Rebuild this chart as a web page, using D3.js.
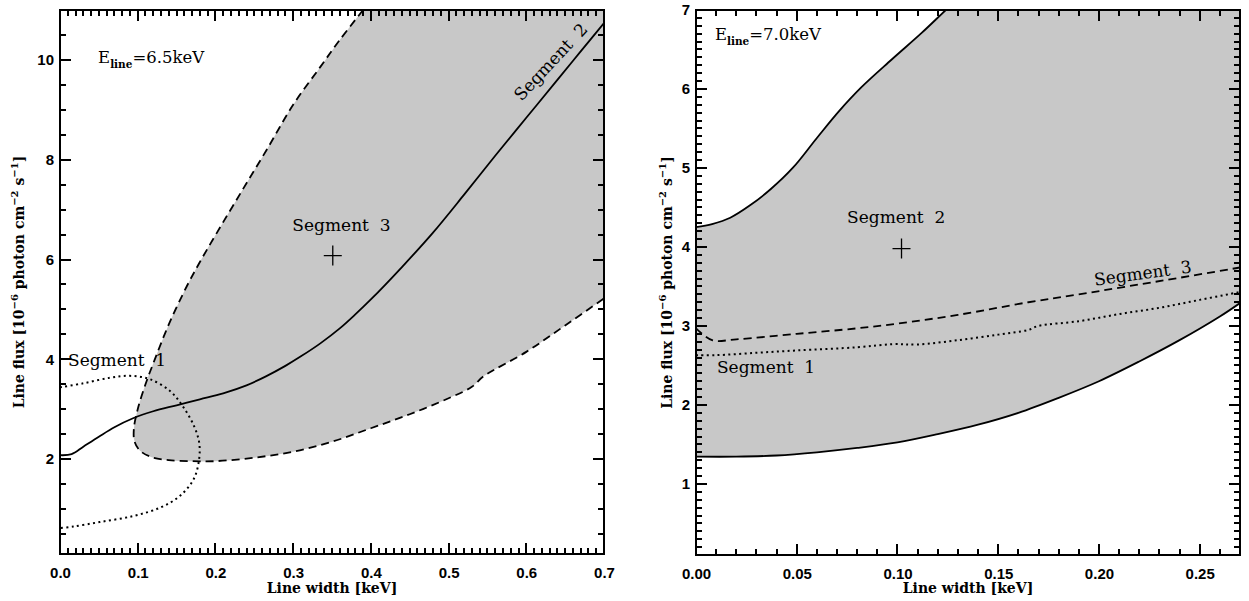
<!DOCTYPE html>
<html>
<head>
<meta charset="utf-8">
<script src="https://cdn.jsdelivr.net/npm/d3@7"></script>
<style>
    body { margin: 0; background: #fff; }
</style>
</head>
<body>
<svg id="chart" width="1249" height="601"></svg>
<script>
(function () {
    'use strict';

    // ---- values ----

    // left panel, E_line = 6.5 keV
    var leftXTicks = [0, 0.1, 0.2, 0.3, 0.4, 0.5, 0.6, 0.7];
    var leftYTicks = [2, 4, 6, 8, 10];
    // segment 3 contour (dashed), shaded to its right
    var leftSeg3 = [
        [0.39, 11.0], [0.36, 10.4], [0.335, 9.86], [0.30, 9.1], [0.266, 8.2],
        [0.235, 7.4], [0.202, 6.54], [0.18, 5.95], [0.163, 5.46], [0.14, 4.7],
        [0.122, 4.0], [0.11, 3.5], [0.1, 3.0], [0.095, 2.6], [0.096, 2.35],
        [0.103, 2.17], [0.118, 2.04], [0.14, 1.98], [0.17, 1.96], [0.2, 1.96],
        [0.25, 2.03], [0.3, 2.15], [0.35, 2.35], [0.4, 2.62], [0.45, 2.9],
        [0.5, 3.22], [0.53, 3.45], [0.545, 3.66], [0.6, 4.15], [0.65, 4.68],
        [0.7, 5.22]
    ];
    // segment 2 contour (solid)
    var leftSeg2 = [
        [0, 2.08], [0.015, 2.1], [0.03, 2.25], [0.05, 2.45], [0.07, 2.64],
        [0.094, 2.82], [0.12, 2.96], [0.15, 3.08], [0.18, 3.2], [0.21, 3.32],
        [0.24, 3.48], [0.265, 3.66], [0.29, 3.87], [0.31, 4.06], [0.335, 4.32],
        [0.36, 4.62], [0.38, 4.9], [0.4, 5.2], [0.44, 5.85], [0.48, 6.54],
        [0.52, 7.3], [0.56, 8.08], [0.6, 8.84], [0.64, 9.6], [0.67, 10.17],
        [0.7, 10.74]
    ];
    // segment 1 contour (dotted)
    var leftSeg1 = [
        [0, 3.44], [0.03, 3.52], [0.064, 3.63], [0.09, 3.67], [0.116, 3.6],
        [0.142, 3.36], [0.158, 3.06], [0.172, 2.68], [0.179, 2.34], [0.179, 2.0],
        [0.172, 1.6], [0.154, 1.26], [0.129, 1.03], [0.094, 0.86], [0.051, 0.74],
        [0.017, 0.65], [0, 0.62]
    ];
    var leftBest = [0.351, 6.08];

    // right panel, E_line = 7.0 keV
    var rightXTicks = [0, 0.05, 0.1, 0.15, 0.2, 0.25];
    var rightYTicks = [1, 2, 3, 4, 5, 6, 7];
    // segment 2 region (solid bounds, shaded between)
    var rightSeg2Upper = [
        [0, 4.25], [0.008, 4.29], [0.017, 4.37], [0.027, 4.53], [0.037, 4.73],
        [0.048, 5.0], [0.06, 5.38], [0.071, 5.72], [0.082, 6.02], [0.097, 6.37],
        [0.112, 6.71], [0.124, 7.0], [0.13, 7.14]
    ];
    var rightSeg2Lower = [
        [0, 1.345], [0.02, 1.345], [0.04, 1.36], [0.06, 1.4], [0.08, 1.455],
        [0.1, 1.525], [0.12, 1.63], [0.14, 1.75], [0.16, 1.9], [0.18, 2.09],
        [0.2, 2.3], [0.22, 2.55], [0.24, 2.82], [0.26, 3.12], [0.27, 3.29]
    ];
    // segment 3 (dashed)
    var rightSeg3 = [
        [0, 2.97], [0.008, 2.82], [0.02, 2.83], [0.05, 2.9], [0.08, 2.97],
        [0.1, 3.03], [0.13, 3.14], [0.165, 3.3], [0.19, 3.4], [0.214, 3.5],
        [0.24, 3.61], [0.27, 3.74]
    ];
    // segment 1 (dotted)
    var rightSeg1 = [
        [0, 2.63], [0.01, 2.63], [0.03, 2.66], [0.05, 2.69], [0.08, 2.73],
        [0.098, 2.77], [0.11, 2.765], [0.13, 2.82], [0.15, 2.89], [0.165, 2.95],
        [0.17, 3.0], [0.19, 3.06], [0.21, 3.15], [0.23, 3.23], [0.25, 3.33],
        [0.27, 3.43]
    ];
    var rightBest = [0.102, 3.98];

    var svg = d3.select("#chart");
    svg.append("rect").attr("width", 1249).attr("height", 601).attr("fill", "#fff");

    var SERIF = "'DejaVu Serif', serif";
    var SANS = "'Liberation Sans', Arial, sans-serif";
    var SHADE = "#c8c8c8";

    function minorRange(lo, hi, step, majors) {
        var out = [];
        var n = Math.round((hi - lo) / step);
        for (var i = 0; i <= n; i++) {
            var v = +(lo + i * step).toFixed(6);
            var isMajor = majors.some(function (m) { return Math.abs(m - v) < step / 10; });
            if (!isMajor) out.push(v);
        }
        return out;
    }

    // inward tick marks on one side of the frame
    function tickMarks(sel, scale, values, side, pos, len) {
        var horiz = (side === "bottom" || side === "top");
        var dir = (side === "bottom" || side === "right") ? -1 : 1;
        sel.selectAll(null)
            .data(values)
            .enter()
            .append("line")
            .attr("x1", function (d) { return horiz ? scale(d) : pos; })
            .attr("x2", function (d) { return horiz ? scale(d) : pos + dir * len; })
            .attr("y1", function (d) { return horiz ? pos : scale(d); })
            .attr("y2", function (d) { return horiz ? pos + dir * len : scale(d); })
            .attr("stroke", "#000")
            .attr("stroke-width", 2);
    }

    function drawPanel(o) {
        var x = d3.scaleLinear().domain(o.xDomain).range([o.left, o.right]);
        var y = d3.scaleLinear().domain(o.yDomain).range([o.bottom, o.top]);
        var g = svg.append("g");

        var clipId = "clip-" + o.name;
        svg.append("clipPath").attr("id", clipId)
            .append("rect")
            .attr("x", o.left).attr("y", o.top)
            .attr("width", o.right - o.left).attr("height", o.bottom - o.top);

        var plot = g.append("g").attr("clip-path", "url(#" + clipId + ")");

        var line = d3.line()
            .x(function (d) { return x(d[0]); })
            .y(function (d) { return y(d[1]); })
            .curve(d3.curveCatmullRom.alpha(0.5));

        // shaded region
        plot.append("path")
            .attr("d", o.shade(line, x, y))
            .attr("fill", SHADE)
            .attr("stroke", "none");

        // contour lines
        o.lines.forEach(function (l) {
            plot.append("path")
                .attr("d", line(l.data))
                .attr("fill", "none")
                .attr("stroke", "#000")
                .attr("stroke-width", l.width || 1.8)
                .attr("stroke-dasharray", l.dash || null);
        });

        // best-fit cross
        g.append("path")
            .attr("transform", "translate(" + x(o.best[0]) + "," + y(o.best[1]) + ")")
            .attr("d", "M-9,0H9M0,-10V10")
            .attr("stroke", "#000")
            .attr("stroke-width", 1.3);

        // tick labels through d3 axes, marks drawn inward on all four sides
        var xMinor = minorRange(o.xDomain[0], o.xDomain[1], o.xMinorStep, o.xTicks);
        var yMinor = minorRange(o.yMinorStart, o.yDomain[1], o.yMinorStep, o.yTicks);

        function styleAxis(sel) {
            sel.select(".domain").remove();
            sel.selectAll(".tick line").remove();
            sel.selectAll(".tick text")
                .attr("fill", "#000")
                .attr("font-family", SANS)
                .attr("font-weight", "bold")
                .attr("font-size", 15);
        }

        g.append("g").attr("transform", "translate(0," + o.bottom + ")")
            .call(d3.axisBottom(x).tickValues(o.xTicks).tickSize(0)
                .tickPadding(13).tickFormat(d3.format(o.xFmt)))
            .call(styleAxis);
        g.append("g").attr("transform", "translate(" + o.left + ",0)")
            .call(d3.axisLeft(y).tickValues(o.yTicks).tickSize(0)
                .tickPadding(6).tickFormat(d3.format("d")))
            .call(styleAxis);

        var ticks = g.append("g").attr("class", "ticks").attr("shape-rendering", "crispEdges");
        tickMarks(ticks, x, o.xTicks, "bottom", o.bottom, 11);
        tickMarks(ticks, x, xMinor, "bottom", o.bottom, 6);
        tickMarks(ticks, x, o.xTicks, "top", o.top, 11);
        tickMarks(ticks, x, xMinor, "top", o.top, 6);
        tickMarks(ticks, y, o.yTicks, "left", o.left, 11);
        tickMarks(ticks, y, yMinor, "left", o.left, 6);
        tickMarks(ticks, y, o.yTicks, "right", o.right, 11);
        tickMarks(ticks, y, yMinor, "right", o.right, 6);

        // frame
        g.append("rect")
            .attr("x", o.left).attr("y", o.top)
            .attr("width", o.right - o.left).attr("height", o.bottom - o.top)
            .attr("fill", "none").attr("stroke", "#000").attr("stroke-width", 2);

        // axis titles
        g.append("text")
            .attr("x", (o.left + o.right) / 2).attr("y", 593)
            .attr("text-anchor", "middle")
            .attr("font-family", SERIF).attr("font-weight", "bold").attr("font-size", 14)
            .text("Line width [keV]");

        var yt = g.append("text")
            .attr("transform", "translate(" + o.yTitleX + "," + (o.top + o.bottom) / 2 + ") rotate(-90)")
            .attr("text-anchor", "middle")
            .attr("font-family", SERIF).attr("font-weight", "bold").attr("font-size", 14);
        yt.append("tspan").text("Line flux [10");
        yt.append("tspan").attr("dy", -6).attr("font-size", 10).text("\u22126");
        yt.append("tspan").attr("dy", 6).text(" photon cm");
        yt.append("tspan").attr("dy", -6).attr("font-size", 10).text("\u22122");
        yt.append("tspan").attr("dy", 6).text(" s");
        yt.append("tspan").attr("dy", -6).attr("font-size", 10).text("\u22121");
        yt.append("tspan").attr("dy", 6).text("]");

        // line energy label
        var el = g.append("text")
            .attr("x", x(o.eLabel[0])).attr("y", y(o.eLabel[1]))
            .attr("font-family", SERIF).attr("font-size", 16.5);
        el.append("tspan").text("E");
        el.append("tspan").attr("dy", 5).attr("font-size", 10.5).attr("font-weight", "bold").text("line");
        el.append("tspan").attr("dy", -5).text("=" + o.energy + "keV");

        // segment labels
        o.labels.forEach(function (lb) {
            g.append("text")
                .attr("transform", "translate(" + x(lb.at[0]) + "," + y(lb.at[1]) + ") rotate(" + (lb.rotate || 0) + ")")
                .attr("font-family", SERIF).attr("font-size", 17)
                .attr("fill", "#000")
                .style("white-space", "pre")
                .text(lb.text);
        });
    }

    drawPanel({
        name: "left",
        left: 60, right: 604, top: 10, bottom: 554,
        xDomain: [0, 0.7], yDomain: [0.1, 11],
        xTicks: leftXTicks, yTicks: leftYTicks,
        xMinorStep: 0.01, yMinorStep: 0.5, yMinorStart: 0.5,
        xFmt: ".1f",
        yTitleX: 24,
        energy: "6.5", eLabel: [0.049, 9.94],
        best: leftBest,
        shade: function (line, x, y) {
            return line(leftSeg3) + "L" + x(0.75) + "," + y(5.22) + "L" + x(0.75) + "," + y(11.5) +
                "L" + x(0.39) + "," + y(11.5) + "Z";
        },
        lines: [
            { data: leftSeg3, dash: "8,5" },
            { data: leftSeg2 },
            { data: leftSeg1, dash: "2,3.4", width: 2 }
        ],
        labels: [
            { text: "Segment  3", at: [0.299, 6.58] },
            { text: "Segment  1", at: [0.0103, 3.86] },
            { text: "Segment  2", at: [0.594, 9.16], rotate: -47 }
        ]
    });

    drawPanel({
        name: "right",
        left: 696, right: 1240, top: 10, bottom: 555,
        xDomain: [0, 0.27], yDomain: [0.1, 7],
        xTicks: rightXTicks, yTicks: rightYTicks,
        xMinorStep: 0.01, yMinorStep: 0.1, yMinorStart: 0.1,
        xFmt: ".2f",
        yTitleX: 672,
        energy: "7.0", eLabel: [0.0094, 6.62],
        best: rightBest,
        shade: function (line, x, y) {
            return line(rightSeg2Upper) + "L" + x(0.13) + "," + y(7.5) + "L" + x(0.3) + "," + y(7.5) +
                "L" + x(0.3) + "," + y(3.29) + line(rightSeg2Lower.slice().reverse()).replace(/^M/, "L") + "Z";
        },
        lines: [
            { data: rightSeg2Upper },
            { data: rightSeg2Lower },
            { data: rightSeg3, dash: "8,5" },
            { data: rightSeg1, dash: "2,3.4", width: 2 }
        ],
        labels: [
            { text: "Segment  2", at: [0.075, 4.30] },
            { text: "Segment  1", at: [0.0104, 2.405] },
            { text: "Segment  3", at: [0.198, 3.51], rotate: -7.8 }
        ]
    });
}());
</script>
</body>
</html>
